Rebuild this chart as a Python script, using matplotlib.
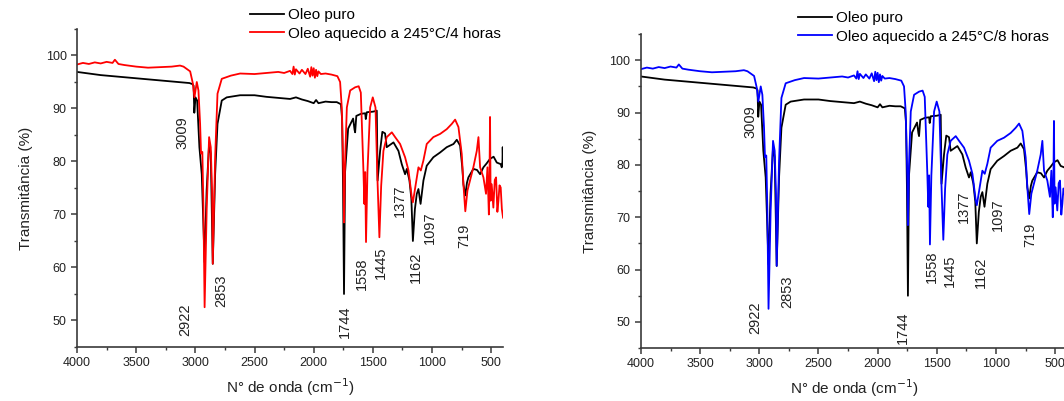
import matplotlib
matplotlib.use('Agg')
import matplotlib.pyplot as plt
from matplotlib.ticker import MultipleLocator

plt.rcParams['font.family'] = ['Liberation Sans', 'DejaVu Sans']

# Oleo puro (black) - wavenumber (cm-1) and transmittance (%)
wn_puro = [4000, 3900, 3800, 3700, 3600, 3500, 3400, 3300, 3200, 3100, 3050, 3025, 3015,
           3009, 2999, 2985, 2966, 2946, 2935, 2922, 2905, 2884, 2870, 2853, 2833, 2813,
           2777, 2735, 2622, 2500, 2400, 2300, 2200, 2150, 2100, 2050, 2000, 1980, 1960,
           1900, 1850, 1805, 1770, 1760, 1752, 1744, 1735, 1709, 1667, 1655, 1650, 1640,
           1600, 1565, 1560, 1551, 1500, 1481, 1467, 1460, 1439, 1420, 1397, 1383, 1326,
           1284, 1256, 1228, 1213, 1191, 1175, 1162, 1145, 1129, 1115, 1097, 1073, 1045,
           989, 932, 876, 819, 791, 763, 745, 735, 719, 705, 693, 651, 620, 594, 566, 540,
           510, 480, 453, 420, 411, 405, 403, 400]
t_puro = [96.9, 96.6, 96.3, 96.1, 95.9, 95.7, 95.5, 95.3, 95.1, 94.9, 94.8, 94.6, 94.3,
          89.2, 92.1, 91.5, 82.7, 77.6, 70.0, 61.0, 74.5, 83.3, 81.5, 60.7, 77.6, 87.1,
          91.5, 92.1, 92.5, 92.5, 92.2, 92.0, 91.8, 92.1, 91.7, 91.4, 91.0, 91.6, 91.0,
          91.3, 91.2, 91.2, 90.8, 88.0, 75.0, 55.0, 78.0, 86.2, 88.1, 86.0, 85.5, 88.6,
          89.0, 89.1, 88.0, 89.3, 89.4, 89.5, 89.6, 76.4, 82.0, 85.6, 85.3, 82.7, 83.6,
          82.0, 79.5, 77.6, 78.6, 76.4, 73.0, 65.0, 71.0, 73.9, 74.8, 72.0, 76.4, 79.2,
          80.8, 81.7, 82.7, 83.3, 84.1, 83.0, 79.0, 75.7, 73.6, 76.0, 77.0, 78.6, 78.4,
          77.6, 78.9, 79.6, 80.5, 80.9, 79.8, 79.5, 78.9, 80.0, 82.7, 80.2]

# Oleo aquecido a 245 C / 4 horas (red)
wn_4h = [4000, 3950, 3900, 3850, 3800, 3750, 3700, 3680, 3650, 3600, 3500, 3400, 3300,
         3200, 3130, 3100, 3044, 3021, 3008, 2988, 2974, 2960, 2952, 2941, 2932, 2922,
         2904, 2884, 2870, 2859, 2853, 2833, 2813, 2777, 2700, 2622, 2500, 2400, 2300,
         2250, 2200, 2180, 2170, 2160, 2150, 2120, 2100, 2070, 2050, 2030, 2020, 2010,
         2000, 1990, 1980, 1970, 1960, 1940, 1900, 1850, 1800, 1777, 1763, 1749, 1744,
         1735, 1720, 1692, 1650, 1620, 1602, 1580, 1572, 1565, 1558, 1546, 1523, 1501,
         1478, 1461, 1445, 1430, 1411, 1383, 1340, 1312, 1270, 1228, 1199, 1171, 1162,
         1129, 1115, 1095, 1073, 1045, 989, 932, 876, 833, 805, 777, 749, 735, 719, 701,
         679, 651, 622, 608, 594, 566, 544, 532, 520, 515, 510, 505, 496, 482, 470, 459,
         448, 439, 430, 420, 410, 400]
t_4h = [98.3, 98.6, 98.4, 98.7, 98.5, 98.8, 98.6, 99.2, 98.4, 98.2, 97.9, 97.7, 97.8,
        97.9, 98.1, 97.9, 97.0, 94.7, 92.1, 95.0, 93.4, 87.1, 81.5, 81.8, 71.4, 52.5,
        71.4, 84.6, 82.7, 74.5, 60.7, 80.8, 92.8, 95.6, 96.2, 96.6, 96.5, 96.7, 96.9,
        96.7, 97.1, 96.5, 97.9, 96.4, 97.4, 96.6, 97.3, 96.5, 97.5, 96.0, 97.8, 96.2,
        97.6, 95.8, 97.3, 96.1, 97.0, 96.5, 96.6, 96.4, 96.1, 95.0, 90.2, 77.7, 68.5,
        80.0, 90.2, 93.4, 94.0, 94.2, 93.0, 78.3, 72.0, 78.0, 64.8, 78.0, 90.2, 92.1,
        90.2, 76.4, 65.7, 75.4, 82.0, 84.6, 85.5, 84.6, 83.3, 80.8, 78.3, 73.2, 72.3,
        77.0, 78.9, 78.3, 80.2, 83.3, 84.6, 85.2, 86.1, 87.1, 87.9, 86.5, 81.4, 75.7,
        70.6, 74.5, 76.4, 78.9, 82.0, 84.6, 78.9, 77.0, 73.9, 78.9, 70.0, 76.0, 88.4,
        72.6, 75.7, 71.3, 76.5, 77.0, 70.5, 72.6, 75.5, 75.1, 71.0, 69.4]

# Oleo aquecido a 245 C / 8 horas (blue) - reads the same as the 4 h spectrum
wn_8h = list(wn_4h)
t_8h = list(t_4h)

bandas = ['3009', '2922', '2853', '1744', '1558', '1445', '1377', '1162', '1097', '719']
# label centres (wavenumber, transmittance) for each panel
pos_4h = [(3111, 85.5), (3082, 50.2), (2781, 55.6), (1734, 49.7), (1590, 58.8),
          (1433, 60.8), (1269, 72.6), (1137, 60.1), (1022, 67.6), (730, 66.0)]
pos_8h = [(3078, 88.2), (3035, 50.7), (2761, 55.7), (1787, 48.8), (1543, 60.6),
          (1393, 59.7), (1272, 72.1), (1128, 59.5), (984, 70.5), (710, 66.7)]

axis_col = '#3a3a3a'

fig = plt.figure(figsize=(10.64, 4.01), dpi=100)
ax1 = fig.add_axes([0.0724, 0.1347, 0.4004, 0.793])
ax2 = fig.add_axes([0.6024, 0.132, 0.4004, 0.783])


def draw_panel(ax, wn2, t2, color, label2, positions, leg_xy):
    l1, = ax.plot(wn_puro, t_puro, color='black', lw=1.3)
    l2, = ax.plot(wn2, t2, color=color, lw=1.3)
    ax.set_xlim(4000, 400)
    ax.set_ylim(45, 105)
    ax.xaxis.set_major_locator(MultipleLocator(500))
    ax.xaxis.set_minor_locator(MultipleLocator(250))
    ax.yaxis.set_major_locator(MultipleLocator(10))
    ax.yaxis.set_minor_locator(MultipleLocator(5))
    ax.set_yticks([50, 60, 70, 80, 90, 100])
    for s in ['top', 'right']:
        ax.spines[s].set_visible(False)
    for s in ['left', 'bottom']:
        ax.spines[s].set_color(axis_col)
        ax.spines[s].set_linewidth(1.2)
    ax.tick_params(which='major', direction='out', length=4, width=1.1,
                   color=axis_col, labelsize=9, labelcolor='#222222')
    ax.tick_params(which='minor', direction='out', length=2.5, width=1.0, color=axis_col)
    ax.set_xlabel('N° de onda (cm$^{-1}$)', fontsize=11, color='#222222', labelpad=5)
    ax.set_ylabel('Transmitância (%)', fontsize=11, color='#222222', labelpad=9)
    for txt, (x, y) in zip(bandas, positions):
        ax.text(x, y, txt, rotation=90, ha='center', va='center', fontsize=10.5,
                color='#222222')
    fig.legend([l1, l2], ['Oleo puro', label2], loc='upper left',
               bbox_to_anchor=leg_xy, bbox_transform=fig.transFigure,
               frameon=False, fontsize=11, handlelength=2.2, handletextpad=0.3,
               labelspacing=0.3, borderpad=0, borderaxespad=0)


draw_panel(ax1, wn_4h, t_4h, '#ff0000', 'Oleo aquecido a 245°C/4 horas', pos_4h,
           (250 / 1064, 1 - 8 / 401))
draw_panel(ax2, wn_8h, t_8h, '#0000ff', 'Oleo aquecido a 245°C/8 horas', pos_8h,
           (798 / 1064, 1 - 11 / 401))

fig.savefig('out.png', dpi=100)
